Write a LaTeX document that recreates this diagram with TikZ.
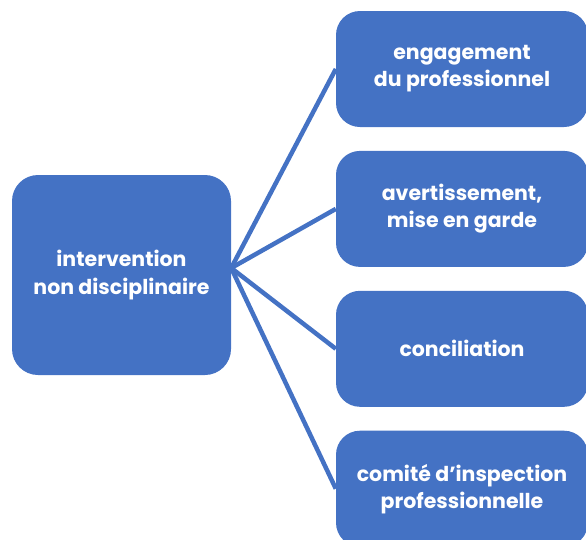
\documentclass[tikz,border=0pt]{standalone}
\usepackage{fontspec}
\setmainfont{Poppins}
\usepackage{tikz}
\usetikzlibrary{positioning}
\usepackage{xcolor}
\definecolor{boxblue}{HTML}{4472C4}

\begin{document}
\begin{tikzpicture}[
    node distance=23.5pt,
    main/.style={rectangle, rounded corners=26pt, minimum width=219pt, minimum height=200pt, text centered, align=center, fill=boxblue, text=white, font=\bfseries\fontsize{20.5}{28}\selectfont},
    option/.style={rectangle, rounded corners=24pt, minimum width=252pt, minimum height=116pt, text centered, align=center, fill=boxblue, text=white, font=\bfseries\fontsize{20.5}{27}\selectfont},
    link/.style={boxblue, line width=4.5pt}
]
\useasboundingbox (0,0) rectangle (586pt,-539pt);

\node (interv) [main] at (121.5pt,-275pt) {intervention\\non disciplinaire};
\node (engag) [option] at (462pt,-69pt) {engagement\\du professionnel};
\node (avert) [option, below=of engag] {avertissement,\\mise en garde};
\node (concil) [option, below=of avert] {conciliation};
\node (comite) [option, below=of concil] {comité d’inspection\\professionnelle};

% Connectors
\coordinate (hub) at ([yshift=7pt]interv.east);
\draw[link] (hub) -- (engag.west);
\draw[link] (hub) -- (avert.west);
\draw[link] (hub) -- (concil.west);
\draw[link] (hub) -- (comite.west);

\end{tikzpicture}
\end{document}
